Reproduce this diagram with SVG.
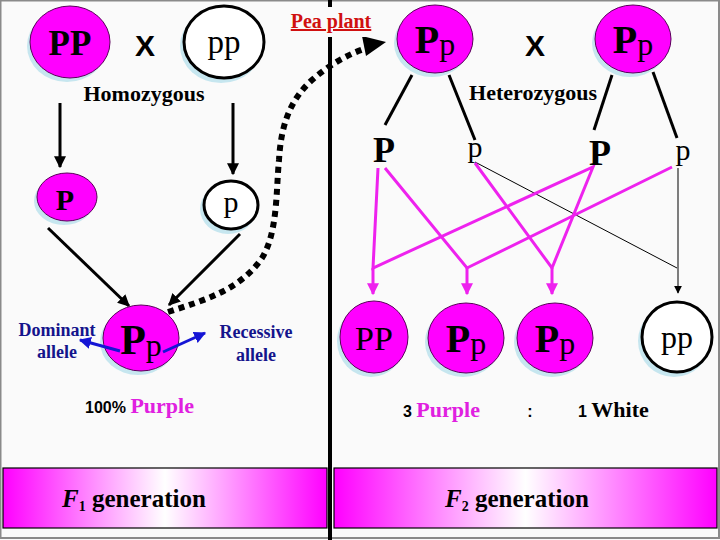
<svg xmlns="http://www.w3.org/2000/svg" width="720" height="540" viewBox="0 0 720 540">
<defs>
<style>
.mag{fill:#ff00ff;stroke:#5a005a;stroke-width:1}
.wht{fill:#ffffff;stroke:#000;stroke-width:3}
.sh{fill:#c6e6ef}
.ser{font-family:"Liberation Serif","Times New Roman",serif;fill:#000}
.b{font-weight:bold}
.sans{font-family:"Liberation Sans",Arial,sans-serif;font-weight:bold;fill:#000}
.blk{stroke:#000;stroke-width:3;fill:none}
.thin{stroke:#000;stroke-width:1;fill:none}
.pk{stroke:#ee22ee;stroke-width:3;fill:none}
.blu{stroke:#1515d5;stroke-width:3;fill:none}
.lab{font-family:"Liberation Serif","Times New Roman",serif;font-weight:bold;fill:#14148c;font-size:18px;text-anchor:middle}
.gbox{stroke:#000;stroke-width:1.2}
</style>
<marker id="ab" viewBox="0 0 10 10" refX="9" refY="5" markerWidth="4" markerHeight="4" orient="auto" markerUnits="strokeWidth"><path d="M0,0 L10,5 L0,10 z" fill="#000"/></marker>
<marker id="abt" viewBox="0 0 10 10" refX="9" refY="5" markerWidth="8" markerHeight="8" orient="auto" markerUnits="strokeWidth"><path d="M0,0 L10,5 L0,10 z" fill="#000"/></marker>
<marker id="ap" viewBox="0 0 10 10" refX="9" refY="5" markerWidth="4" markerHeight="4" orient="auto" markerUnits="strokeWidth"><path d="M0,0 L10,5 L0,10 z" fill="#ee22ee"/></marker>
<marker id="au" viewBox="0 0 10 10" refX="9" refY="5" markerWidth="4" markerHeight="4" orient="auto" markerUnits="strokeWidth"><path d="M0,0 L10,5 L0,10 z" fill="#1515d5"/></marker>
<linearGradient id="g" x1="0" y1="0" x2="1" y2="0">
<stop offset="0" stop-color="#ff00ff"/>
<stop offset="0.5" stop-color="#ffffff"/>
<stop offset="1" stop-color="#ff00ff"/>
</linearGradient>
</defs>
<rect x="0" y="0" width="720" height="540" fill="#fafafa"/>
<rect x="0.5" y="0.5" width="718.5" height="537.5" fill="none" stroke="#8a8a8a" stroke-width="2"/>

<line x1="330" y1="0" x2="330" y2="540" stroke="#000" stroke-width="4"/>

<g id="connectors">
<line class="blk" x1="60" y1="103" x2="60" y2="167" marker-end="url(#ab)"/>
<line class="blk" x1="233" y1="103" x2="233" y2="174" marker-end="url(#ab)"/>
<line class="blk" x1="48" y1="228" x2="129" y2="306" marker-end="url(#ab)"/>
<line class="blk" x1="240" y1="234" x2="169" y2="305" marker-end="url(#ab)"/>
<path d="M168,312 C205,300 240,290 262,258 C278,232 276,190 279,160 C281,125 290,100 312,80 C330,64 350,53 370,47" fill="none" stroke="#000" stroke-width="6" stroke-dasharray="6,5"/>
<path d="M362,36 L386,42 L366,56 z" fill="#000"/>
<line class="blk" x1="412" y1="75" x2="385" y2="125"/>
<line class="blk" x1="449" y1="75" x2="475" y2="140"/>
<line class="blk" x1="612" y1="75" x2="594" y2="130"/>
<line class="blk" x1="653" y1="72" x2="677" y2="138"/>
<line class="thin" x1="475" y1="162" x2="677" y2="268"/>
<line class="thin" x1="678" y1="168" x2="678" y2="293" marker-end="url(#abt)"/>
<polyline class="pk" points="378,168 373,268 593,167 552,268 475,163"/>
<polyline class="pk" points="385,168 467,268 672,167"/>
<line class="pk" x1="373" y1="268" x2="373" y2="294" marker-end="url(#ap)"/>
<line class="pk" x1="467" y1="268" x2="467" y2="294" marker-end="url(#ap)"/>
<line class="pk" x1="552" y1="268" x2="552" y2="294" marker-end="url(#ap)"/>
</g>

<g id="PP-parent">
<ellipse class="sh" cx="67" cy="46" rx="40" ry="36"/>
<ellipse class="mag" cx="70" cy="42" rx="40" ry="36"/>
<text class="ser b" x="70" y="55" font-size="35" text-anchor="middle">PP</text>
</g>
<text class="sans" x="145" y="56" font-size="30" text-anchor="middle">X</text>
<g id="pp-parent">
<ellipse class="sh" cx="221" cy="46" rx="41" ry="37"/>
<ellipse class="wht" cx="224" cy="42" rx="40" ry="36"/>
<text class="ser" x="224" y="53" font-size="33" text-anchor="middle">pp</text>
</g>
<text class="ser b" x="144" y="101" font-size="22" text-anchor="middle">Homozygous</text>

<g id="P-gamete">
<ellipse class="sh" cx="64" cy="201" rx="30" ry="24"/>
<ellipse class="mag" cx="67" cy="197" rx="30" ry="24"/>
<text class="ser b" x="65" y="210" font-size="30" text-anchor="middle">P</text>
</g>
<g id="p-gamete">
<ellipse class="sh" cx="228" cy="209" rx="28" ry="25"/>
<ellipse class="wht" cx="231" cy="205" rx="27" ry="24"/>
<text class="ser" x="231" y="212" font-size="30" text-anchor="middle">p</text>
</g>

<g id="Pp-F1">
<ellipse class="sh" cx="138" cy="342" rx="38" ry="33"/>
<ellipse class="mag" cx="141" cy="338" rx="38" ry="33"/>
<text class="ser" x="141" y="354" font-size="42" text-anchor="middle"><tspan font-weight="bold">P</tspan><tspan font-size="32" dy="2">p</tspan></text>
</g>
<g id="allele-arrows">
<line class="blu" x1="120" y1="351" x2="80" y2="340" marker-end="url(#au)"/>
<line class="blu" x1="163" y1="352" x2="205" y2="333" marker-end="url(#au)"/>
</g>
<g id="dominant-label">
<text class="lab" x="57" y="336">Dominant</text>
<text class="lab" x="57" y="358">allele</text>
</g>
<g id="recessive-label">
<text class="lab" x="256" y="338" font-size="19">Recessive</text>
<text class="lab" x="256" y="361" font-size="19">allele</text>
</g>
<text x="85" y="413"><tspan class="sans" font-size="16">100% </tspan><tspan class="ser b" font-size="22" style="fill:#e020e0">Purple</tspan></text>

<g id="pea-plant-label">
<rect x="284" y="7" width="94" height="30" fill="#fafafa"/>
<text class="ser b" x="331" y="28" font-size="20" text-anchor="middle" text-decoration="underline" style="fill:#d01010">Pea plant</text>
</g>

<g id="Pp-parent-1">
<ellipse class="sh" cx="432" cy="43" rx="38" ry="34"/>
<ellipse class="mag" cx="435" cy="39" rx="38" ry="34"/>
<text class="ser" x="435" y="53" font-size="40" text-anchor="middle"><tspan font-weight="bold">P</tspan><tspan font-size="32" dy="2">p</tspan></text>
</g>
<text class="sans" x="535" y="56" font-size="30" text-anchor="middle">X</text>
<g id="Pp-parent-2">
<ellipse class="sh" cx="630" cy="43" rx="38" ry="34"/>
<ellipse class="mag" cx="633" cy="39" rx="38" ry="34"/>
<text class="ser" x="633" y="53" font-size="40" text-anchor="middle"><tspan font-weight="bold">P</tspan><tspan font-size="32" dy="2">p</tspan></text>
</g>
<text class="ser b" x="533" y="100" font-size="22" text-anchor="middle">Heterozygous</text>

<g id="gametes-F1">
<text class="ser b" x="384" y="162" font-size="36" text-anchor="middle">P</text>
<text class="ser" x="475" y="157" font-size="30" text-anchor="middle">p</text>
<text class="ser b" x="600" y="165" font-size="36" text-anchor="middle">P</text>
<text class="ser" x="683" y="160" font-size="30" text-anchor="middle">p</text>
</g>

<g id="PP-F2">
<ellipse class="sh" cx="371" cy="341" rx="34" ry="36"/>
<ellipse class="mag" cx="374" cy="337" rx="34" ry="36"/>
<text class="ser" x="374" y="350" font-size="34" text-anchor="middle">PP</text>
</g>
<g id="Pp-F2-1">
<ellipse class="sh" cx="463" cy="342" rx="38" ry="35"/>
<ellipse class="mag" cx="466" cy="338" rx="38" ry="35"/>
<text class="ser" x="466" y="352" font-size="40" text-anchor="middle"><tspan font-weight="bold">P</tspan><tspan font-size="32" dy="2">p</tspan></text>
</g>
<g id="Pp-F2-2">
<ellipse class="sh" cx="552" cy="342" rx="38" ry="35"/>
<ellipse class="mag" cx="555" cy="338" rx="38" ry="35"/>
<text class="ser" x="555" y="352" font-size="40" text-anchor="middle"><tspan font-weight="bold">P</tspan><tspan font-size="32" dy="2">p</tspan></text>
</g>
<g id="pp-F2">
<ellipse class="sh" cx="674" cy="341" rx="36" ry="36"/>
<ellipse class="wht" cx="677" cy="337" rx="35" ry="35"/>
<text class="ser" x="677" y="348" font-size="32" text-anchor="middle">pp</text>
</g>

<text x="403" y="417"><tspan class="sans" font-size="16">3 </tspan><tspan class="ser b" font-size="22" style="fill:#e020e0">Purple</tspan></text>
<text class="sans" x="530" y="417" font-size="16" text-anchor="middle">:</text>
<text x="578" y="417"><tspan class="sans" font-size="16">1 </tspan><tspan class="ser b" font-size="22">White</tspan></text>

<g id="F1-box">
<rect class="gbox" x="3" y="468" width="324" height="60" fill="url(#g)"/>
<text class="ser b" x="62" y="507" font-size="25"><tspan font-style="italic">F</tspan><tspan font-size="14" dy="4">1</tspan><tspan dy="-4"> generation</tspan></text>
</g>
<g id="F2-box">
<rect class="gbox" x="334" y="468" width="383" height="60" fill="url(#g)"/>
<text class="ser b" x="445" y="507" font-size="25"><tspan font-style="italic">F</tspan><tspan font-size="14" dy="4">2</tspan><tspan dy="-4"> generation</tspan></text>
</g>
</svg>
